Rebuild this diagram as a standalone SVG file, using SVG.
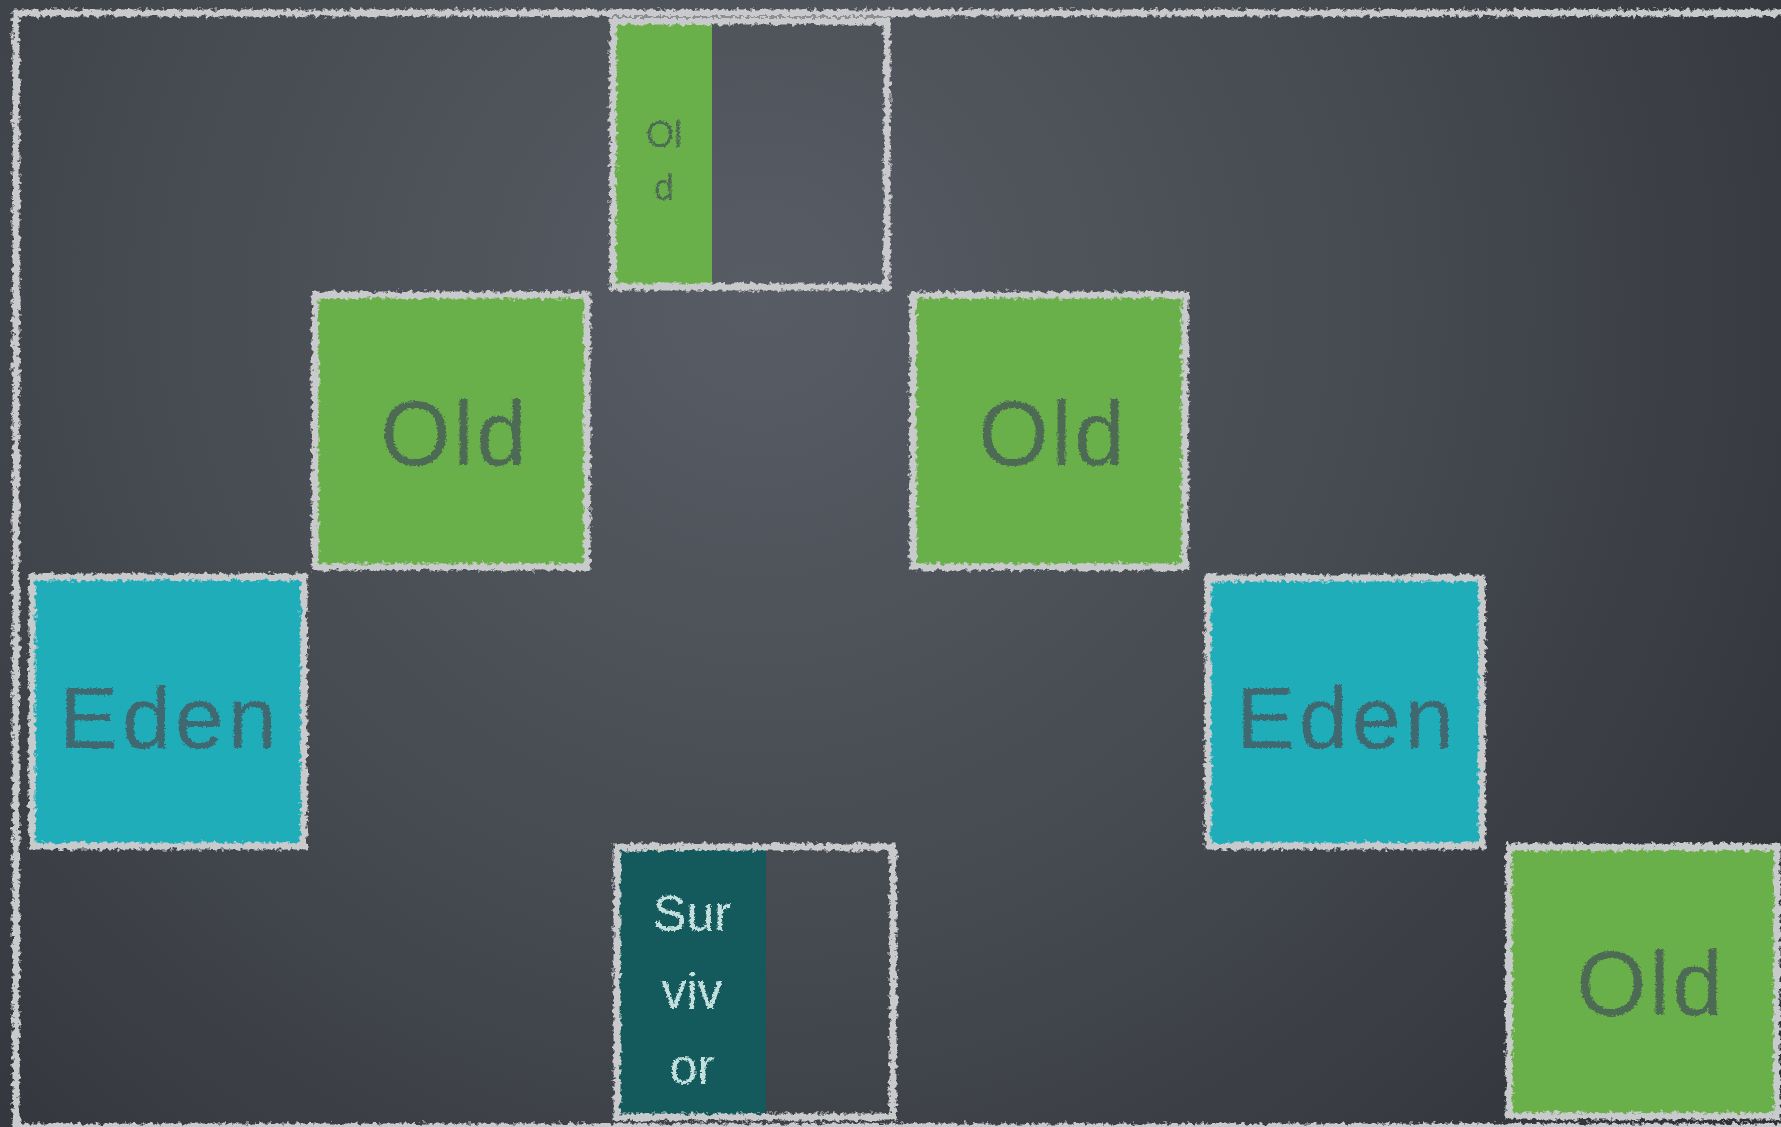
<svg xmlns="http://www.w3.org/2000/svg" width="1781" height="1127" viewBox="0 0 1781 1127">
  <defs>
    <radialGradient id="board" cx="760" cy="300" r="1350" gradientUnits="userSpaceOnUse">
      <stop offset="0" stop-color="#585d65"/>
      <stop offset="0.5" stop-color="#44484f"/>
      <stop offset="1" stop-color="#2c2f34"/>
    </radialGradient>
    <!-- rough chalk edge for outlines -->
    <filter id="chalk" x="-3%" y="-3%" width="106%" height="106%">
      <feTurbulence type="fractalNoise" baseFrequency="0.22" numOctaves="3" seed="4" result="noise"/>
      <feDisplacementMap in="SourceGraphic" in2="noise" scale="8" xChannelSelector="R" yChannelSelector="G"/>
    </filter>
    <!-- grainy chalk lettering -->
    <filter id="chalkText" x="-10%" y="-20%" width="120%" height="140%">
      <feTurbulence type="fractalNoise" baseFrequency="0.5" numOctaves="2" seed="9" result="noise"/>
      <feDisplacementMap in="SourceGraphic" in2="noise" scale="5" xChannelSelector="R" yChannelSelector="G"/>
    </filter>
    <style>
      .outline { fill: none; stroke: #c9cacc; stroke-width: 7; filter: url(#chalk); }
      .old { fill: #6ab04a; }
      .eden { fill: #1fadb9; }
      .surv { fill: #145a5d; }
      .lbl { font-family: "Liberation Sans", "DejaVu Sans", sans-serif; text-anchor: middle; filter: url(#chalkText); }
      .oldTxt { fill: #4e6b55; font-size: 90px; letter-spacing: 3px; }
      .edenTxt { fill: #40686f; font-size: 88px; letter-spacing: 4px; }
      .smallOld { fill: #4e6b55; font-size: 36px; }
      .survTxt { fill: #c3e0df; font-size: 50px; }
    </style>
  </defs>

  <rect x="0" y="0" width="1781" height="1127" fill="url(#board)"/>

  <!-- board frame -->
  <rect class="outline" x="16" y="13" width="1800" height="1114"/>

  <g id="old-split">
    <rect class="old" x="613" y="21" width="99" height="266"/>
    <rect class="outline" x="613" y="21" width="274" height="266"/>
    <line class="outline" x1="712" y1="21" x2="712" y2="287"/>
    <text class="lbl smallOld" x="664" y="147">Ol</text>
    <text class="lbl smallOld" x="664" y="200">d</text>
  </g>

  <g id="old-left">
    <rect class="old" x="315" y="295" width="272" height="272"/>
    <rect class="outline" x="315" y="295" width="272" height="272"/>
    <text class="lbl oldTxt" x="455" y="465">Old</text>
  </g>

  <g id="old-right">
    <rect class="old" x="913" y="295" width="272" height="272"/>
    <rect class="outline" x="913" y="295" width="272" height="272"/>
    <text class="lbl oldTxt" x="1053" y="465">Old</text>
  </g>

  <g id="eden-left">
    <rect class="eden" x="32" y="577" width="272" height="269"/>
    <rect class="outline" x="32" y="577" width="272" height="269"/>
    <text class="lbl edenTxt" x="170" y="748">Eden</text>
  </g>

  <g id="eden-right">
    <rect class="eden" x="1208" y="578" width="274" height="268"/>
    <rect class="outline" x="1208" y="578" width="274" height="268"/>
    <text class="lbl edenTxt" x="1347" y="748">Eden</text>
  </g>

  <g id="survivor">
    <rect class="surv" x="617" y="847" width="149" height="270"/>
    <rect class="outline" x="617" y="847" width="276" height="270"/>
    <line class="outline" x1="766" y1="847" x2="766" y2="1117"/>
    <text class="lbl survTxt" x="692" y="931">Sur</text>
    <text class="lbl survTxt" x="692" y="1008">viv</text>
    <text class="lbl survTxt" x="692" y="1084">or</text>
  </g>

  <g id="old-bottom">
    <rect class="old" x="1509" y="847" width="268" height="269"/>
    <rect class="outline" x="1509" y="847" width="268" height="269"/>
    <text class="lbl oldTxt" x="1651" y="1015">Old</text>
  </g>

  <g id="connectors"></g>
</svg>
